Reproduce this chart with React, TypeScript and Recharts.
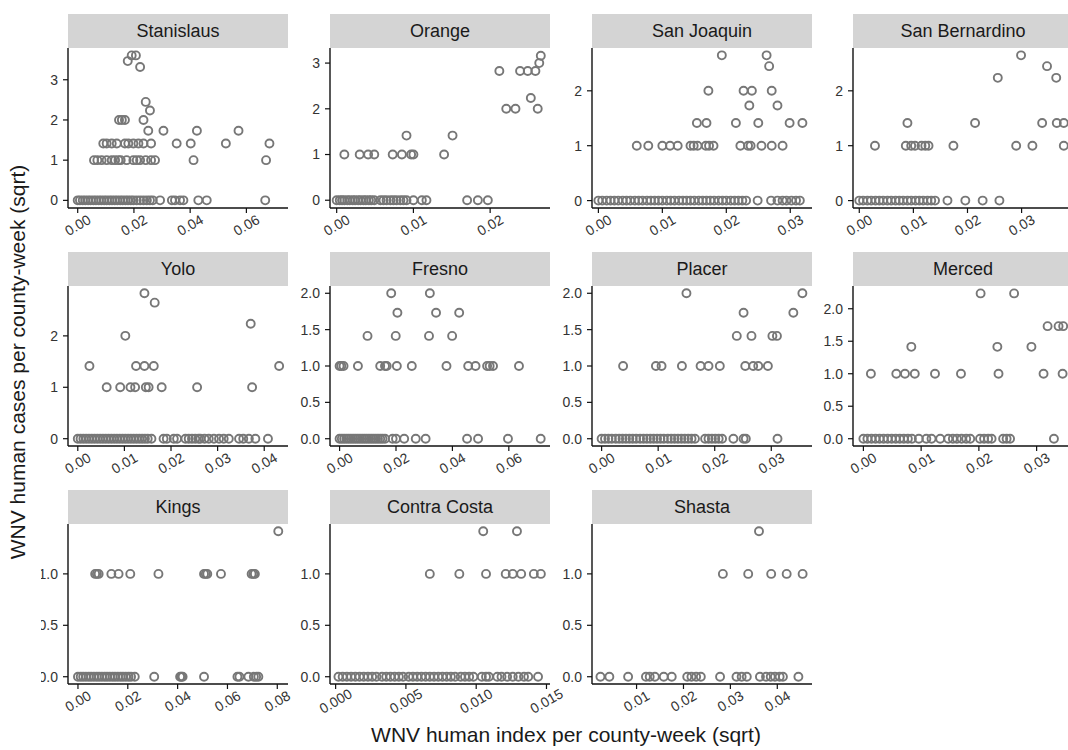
import React from 'react';
import { ScatterChart, Scatter, XAxis, YAxis } from 'recharts';

// each county: rows of [sqrt(cases), index values observed at that level]
type Rows = [number, number[]][];

const stanislaus: Rows = [
  [3.606, [0.0192, 0.0207]],
  [3.464, [0.0178]],
  [3.317, [0.0222]],
  [2.449, [0.0242]],
  [2.236, [0.0257]],
  [2.0, [0.0147, 0.0157, 0.0168, 0.0234]],
  [1.732, [0.0251, 0.0305, 0.0424, 0.0572]],
  [1.414, [0.0091, 0.0103, 0.0121, 0.0139, 0.0168, 0.018, 0.0198, 0.0216, 0.0234, 0.0261, 0.0352, 0.0402, 0.0527, 0.0682]],
  [1.0, [0.0058, 0.007, 0.0085, 0.0103, 0.0121, 0.0133, 0.0145, 0.0153, 0.0174, 0.0198, 0.021, 0.0222, 0.0242, 0.0261, 0.0275, 0.0412, 0.067]],
  [0, [0, 0.0008, 0.0018, 0.0027, 0.0037, 0.0046, 0.0056, 0.0065, 0.0075, 0.0084, 0.0094, 0.0103, 0.0113, 0.0122, 0.0132, 0.0141, 0.0151, 0.016, 0.017, 0.0179, 0.0189, 0.0198, 0.021, 0.0222, 0.0234, 0.0246, 0.0257, 0.0267, 0.0293, 0.0335, 0.0346, 0.0364, 0.0376, 0.0429, 0.0459, 0.0667]],
];

const orange: Rows = [
  [3.162, [0.0266]],
  [3.0, [0.0264]],
  [2.828, [0.0212, 0.0239, 0.0249, 0.0259]],
  [2.236, [0.0253]],
  [2.0, [0.0221, 0.0233, 0.0262]],
  [1.414, [0.0091, 0.0151]],
  [1.0, [0.001, 0.003, 0.0041, 0.0049, 0.0073, 0.0085, 0.0097, 0.01, 0.014]],
  [0, [0, 0.0004, 0.0007, 0.001, 0.0014, 0.0017, 0.0021, 0.0024, 0.0028, 0.0031, 0.0035, 0.0038, 0.0042, 0.0045, 0.0049, 0.0057, 0.0061, 0.0065, 0.007, 0.0074, 0.0078, 0.0083, 0.0087, 0.0091, 0.01, 0.0111, 0.0117, 0.017, 0.0184, 0.0197]],
];

const sanJoaquin: Rows = [
  [2.646, [0.0193, 0.0263]],
  [2.449, [0.0267]],
  [2.0, [0.0172, 0.0227, 0.024, 0.0271]],
  [1.732, [0.0236, 0.028]],
  [1.414, [0.0154, 0.0169, 0.0215, 0.025, 0.0299, 0.0319]],
  [1.0, [0.006, 0.0078, 0.01, 0.0112, 0.0124, 0.0144, 0.0149, 0.0155, 0.0168, 0.0173, 0.018, 0.0222, 0.0234, 0.0238, 0.0255, 0.0271, 0.0288]],
  [0, [0, 0.0006, 0.0013, 0.0019, 0.0025, 0.0031, 0.0038, 0.0044, 0.005, 0.0057, 0.0063, 0.0069, 0.0076, 0.0082, 0.0088, 0.0094, 0.01, 0.0107, 0.0113, 0.0119, 0.0126, 0.0132, 0.0138, 0.0144, 0.015, 0.0157, 0.0163, 0.0169, 0.0175, 0.0181, 0.0188, 0.0194, 0.02, 0.0207, 0.0213, 0.0219, 0.0225, 0.0231, 0.0249, 0.027, 0.028, 0.0288, 0.0294, 0.0302, 0.0309, 0.0315]],
];

const sanBernardino: Rows = [
  [2.646, [0.0299]],
  [2.449, [0.0347]],
  [2.236, [0.0256, 0.0364]],
  [1.414, [0.0089, 0.0214, 0.0338, 0.0365, 0.0378]],
  [1.0, [0.0029, 0.0086, 0.0096, 0.0103, 0.0115, 0.0122, 0.0128, 0.0174, 0.029, 0.032, 0.0378]],
  [0, [0, 0.0007, 0.0015, 0.0022, 0.003, 0.0037, 0.0044, 0.0052, 0.0059, 0.0067, 0.0074, 0.0081, 0.0089, 0.0096, 0.0104, 0.0111, 0.0118, 0.0126, 0.0133, 0.014, 0.0163, 0.0196, 0.0228, 0.0259]],
];

const yolo: Rows = [
  [2.828, [0.0143]],
  [2.646, [0.0165]],
  [2.236, [0.0371]],
  [2.0, [0.0102]],
  [1.414, [0.0025, 0.0125, 0.0143, 0.0163, 0.0432]],
  [1.0, [0.0062, 0.0091, 0.0113, 0.0123, 0.0146, 0.0152, 0.018, 0.0256, 0.0374]],
  [0, [0, 0.0006, 0.0012, 0.0018, 0.0024, 0.003, 0.0036, 0.0042, 0.0048, 0.0054, 0.006, 0.0066, 0.0072, 0.0078, 0.0084, 0.009, 0.0096, 0.0102, 0.0108, 0.0114, 0.012, 0.0126, 0.0132, 0.0138, 0.0144, 0.015, 0.0158, 0.0184, 0.0191, 0.0206, 0.0213, 0.0231, 0.0238, 0.0245, 0.0252, 0.0259, 0.0263, 0.0272, 0.0281, 0.0292, 0.0303, 0.0313, 0.0324, 0.0346, 0.0355, 0.0367, 0.0381, 0.0408]],
];

const fresno: Rows = [
  [2.0, [0.0183, 0.032]],
  [1.732, [0.0205, 0.0342, 0.0424]],
  [1.414, [0.0099, 0.0199, 0.0317, 0.0399]],
  [1.0, [0, 0.0006, 0.0014, 0.0065, 0.0144, 0.0161, 0.0167, 0.0203, 0.0256, 0.0379, 0.0456, 0.0482, 0.0523, 0.0532, 0.0544, 0.0636]],
  [0, [0, 0.0008, 0.0016, 0.0024, 0.0032, 0.004, 0.0048, 0.0056, 0.0064, 0.0072, 0.008, 0.0088, 0.0096, 0.0104, 0.0112, 0.012, 0.0128, 0.0136, 0.0144, 0.0152, 0.0161, 0.0188, 0.02, 0.0229, 0.027, 0.0305, 0.0452, 0.0491, 0.0597, 0.0713]],
];

const placer: Rows = [
  [2.0, [0.015, 0.0355]],
  [1.732, [0.0251, 0.0339]],
  [1.414, [0.0239, 0.0265, 0.0302, 0.031]],
  [1.0, [0.0038, 0.0096, 0.0106, 0.0142, 0.0175, 0.0189, 0.0209, 0.0254, 0.0268, 0.0277, 0.0294]],
  [0, [0, 0.0006, 0.0012, 0.0018, 0.0025, 0.0031, 0.0037, 0.0043, 0.0049, 0.0055, 0.0061, 0.0068, 0.0074, 0.008, 0.0086, 0.0092, 0.0098, 0.0104, 0.011, 0.0117, 0.0123, 0.0129, 0.0135, 0.0141, 0.0147, 0.0153, 0.0159, 0.0165, 0.0183, 0.0189, 0.0195, 0.0201, 0.0207, 0.0213, 0.0233, 0.0251, 0.0255, 0.0311]],
];

const merced: Rows = [
  [2.236, [0.0203, 0.0261]],
  [1.732, [0.0319, 0.0338, 0.0346]],
  [1.414, [0.0083, 0.0232, 0.0291]],
  [1.0, [0.0013, 0.0057, 0.0072, 0.0089, 0.0124, 0.0169, 0.0234, 0.0312, 0.0345]],
  [0, [0, 0.0007, 0.0014, 0.0021, 0.0028, 0.0035, 0.0042, 0.0049, 0.0056, 0.0063, 0.007, 0.0077, 0.0084, 0.0096, 0.0109, 0.0118, 0.0133, 0.0147, 0.0155, 0.0162, 0.017, 0.0178, 0.0185, 0.0202, 0.0209, 0.0216, 0.0222, 0.0242, 0.0248, 0.0254, 0.033]],
];

const kings: Rows = [
  [1.414, [0.0804]],
  [1.0, [0.0069, 0.0076, 0.0083, 0.0134, 0.0163, 0.021, 0.0323, 0.0506, 0.0513, 0.0519, 0.0574, 0.0697, 0.0704, 0.071]],
  [0, [0, 0.0011, 0.0021, 0.0032, 0.0043, 0.0053, 0.0064, 0.0075, 0.0085, 0.0096, 0.0107, 0.0117, 0.0128, 0.0139, 0.0149, 0.016, 0.0171, 0.0181, 0.0192, 0.0203, 0.0213, 0.0228, 0.0306, 0.041, 0.0415, 0.042, 0.0506, 0.064, 0.0648, 0.0684, 0.0706, 0.0715, 0.0724]],
];

const contraCosta: Rows = [
  [1.414, [0.0105, 0.0129]],
  [1.0, [0.0067, 0.0088, 0.0107, 0.0121, 0.0126, 0.0132, 0.0141, 0.0146]],
  [0, [0.0002, 0.0005, 0.0008, 0.0011, 0.0014, 0.0017, 0.002, 0.0023, 0.0026, 0.0029, 0.0033, 0.0036, 0.0039, 0.0042, 0.0045, 0.0048, 0.0052, 0.0055, 0.0058, 0.0061, 0.0064, 0.0067, 0.007, 0.0073, 0.0076, 0.0079, 0.0082, 0.0085, 0.0089, 0.0092, 0.0095, 0.0098, 0.0104, 0.0107, 0.0109, 0.0115, 0.0118, 0.0122, 0.0126, 0.013, 0.0134, 0.0137, 0.0144]],
];

const shasta: Rows = [
  [1.414, [0.0361]],
  [1.0, [0.0284, 0.0338, 0.0387, 0.042, 0.0454]],
  [0, [0.0023, 0.0042, 0.0082, 0.012, 0.0128, 0.0139, 0.0158, 0.0175, 0.0208, 0.0217, 0.0227, 0.0237, 0.0278, 0.0313, 0.0324, 0.0335, 0.0363, 0.0376, 0.0386, 0.0395, 0.0405, 0.0412, 0.0445]],
];

const TICKS_X2 = [0, 0.01, 0.02, 0.03];
const TICKS_X_WIDE = [0, 0.02, 0.04, 0.06];

interface Panel {
  name: string;
  rows: Rows;
  xDomain: [number, number];
  yDomain: [number, number];
  xTicks: number[];
  yTicks: number[];
  xDigits: number;
  yDigits: number;
}

const PANELS: Panel[] = [
  { name: 'Stanislaus', rows: stanislaus, xDomain: [-0.00345, 0.0748], yDomain: [-0.19, 3.79], xTicks: TICKS_X_WIDE, yTicks: [0, 1, 2, 3], xDigits: 2, yDigits: 0 },
  { name: 'Orange', rows: orange, xDomain: [-0.00087, 0.0278], yDomain: [-0.17, 3.33], xTicks: [0, 0.01, 0.02], yTicks: [0, 1, 2, 3], xDigits: 2, yDigits: 0 },
  { name: 'San Joaquin', rows: sanJoaquin, xDomain: [-0.001, 0.0334], yDomain: [-0.135, 2.78], xTicks: TICKS_X2, yTicks: [0, 1, 2], xDigits: 2, yDigits: 0 },
  { name: 'San Bernardino', rows: sanBernardino, xDomain: [-0.00116, 0.0395], yDomain: [-0.135, 2.78], xTicks: TICKS_X2, yTicks: [0, 1, 2], xDigits: 2, yDigits: 0 },
  { name: 'Yolo', rows: yolo, xDomain: [-0.0021, 0.0451], yDomain: [-0.142, 2.97], xTicks: [0, 0.01, 0.02, 0.03, 0.04], yTicks: [0, 1, 2], xDigits: 2, yDigits: 0 },
  { name: 'Fresno', rows: fresno, xDomain: [-0.0034, 0.0746], yDomain: [-0.1, 2.1], xTicks: TICKS_X_WIDE, yTicks: [0, 0.5, 1, 1.5, 2], xDigits: 2, yDigits: 1 },
  { name: 'Placer', rows: placer, xDomain: [-0.0017, 0.0372], yDomain: [-0.1, 2.1], xTicks: TICKS_X2, yTicks: [0, 0.5, 1, 1.5, 2], xDigits: 2, yDigits: 1 },
  { name: 'Merced', rows: merced, xDomain: [-0.0018, 0.0363], yDomain: [-0.112, 2.35], xTicks: TICKS_X2, yTicks: [0, 0.5, 1, 1.5, 2], xDigits: 2, yDigits: 1 },
  { name: 'Kings', rows: kings, xDomain: [-0.004, 0.0843], yDomain: [-0.0707, 1.485], xTicks: [0, 0.02, 0.04, 0.06, 0.08], yTicks: [0, 0.5, 1], xDigits: 2, yDigits: 1 },
  { name: 'Contra Costa', rows: contraCosta, xDomain: [-0.0004, 0.01525], yDomain: [-0.0707, 1.485], xTicks: [0, 0.005, 0.01, 0.015], yTicks: [0, 0.5, 1], xDigits: 3, yDigits: 1 },
  { name: 'Shasta', rows: shasta, xDomain: [0.0005, 0.0474], yDomain: [-0.0707, 1.485], xTicks: [0.01, 0.02, 0.03, 0.04], yTicks: [0, 0.5, 1], xDigits: 2, yDigits: 1 },
];

// panel grid (plot-area top-left corners in page pixels)
const COL_X = [68, 330, 592, 853];
const ROW_Y = [48, 286, 524];
const PW = 220;
const PH = 160;
const STRIP_H = 34;
const Y_AXIS_W = 70;
const TOP_PAD = 10;
const RIGHT_PAD = 30;
const X_AXIS_H = 50;

const FONT = '"Liberation Sans", Arial, sans-serif';
const POINT = '#777';
const AXIS_TEXT = '#333';
const TICK_FS = 14;

function flatten(rows: Rows) {
  const out: { x: number; y: number }[] = [];
  rows.forEach(([y, xs]) => xs.forEach((x) => out.push({ x, y })));
  return out;
}

function Ring(props: any) {
  const { cx, cy } = props;
  if (cx == null || cy == null) return null;
  return <circle cx={cx} cy={cy} r={4} fill="none" stroke={POINT} strokeWidth={1.9} />;
}

function XTick(props: any) {
  const { x, y, payload, digits } = props;
  const ty = y + 10;
  return (
    <text
      x={x}
      y={ty}
      transform={`rotate(-30 ${x} ${ty})`}
      textAnchor="middle"
      dominantBaseline="central"
      fontSize={TICK_FS}
      fontFamily={FONT}
      fill={AXIS_TEXT}
    >
      {Number(payload.value).toFixed(digits)}
    </text>
  );
}

function FacetPanel({ panel, col, row }: { panel: Panel; col: number; row: number }) {
  const left = COL_X[col];
  const top = ROW_Y[row];
  const data = flatten(panel.rows);
  return (
    <>
      <div
        style={{
          position: 'absolute',
          left,
          top: top - STRIP_H,
          width: PW,
          height: STRIP_H,
          background: '#d4d4d4',
          color: '#1a1a1a',
          fontFamily: FONT,
          fontSize: 18,
          lineHeight: `${STRIP_H}px`,
          textAlign: 'center',
        }}
      >
        {panel.name}
      </div>
      <div style={{ position: 'absolute', left: left - Y_AXIS_W, top: top - TOP_PAD }}>
        <ScatterChart
          width={Y_AXIS_W + PW + RIGHT_PAD}
          height={TOP_PAD + PH + X_AXIS_H}
          margin={{ top: TOP_PAD, right: RIGHT_PAD, bottom: 0, left: 0 }}
        >
          <XAxis
            type="number"
            dataKey="x"
            domain={panel.xDomain}
            allowDataOverflow
            ticks={panel.xTicks}
            interval={0}
            height={X_AXIS_H}
            axisLine={{ stroke: '#111', strokeWidth: 1.4 }}
            tickLine={{ stroke: '#111', strokeWidth: 1.2 }}
            tickSize={5}
            tick={(p: any) => <XTick {...p} digits={panel.xDigits} />}
          />
          <YAxis
            type="number"
            dataKey="y"
            domain={panel.yDomain}
            allowDataOverflow
            ticks={panel.yTicks}
            interval={0}
            width={Y_AXIS_W}
            axisLine={{ stroke: '#111', strokeWidth: 1.4 }}
            tickLine={{ stroke: '#111', strokeWidth: 1.2 }}
            tickSize={5}
            tickMargin={5}
            tick={{ fontSize: TICK_FS, fontFamily: FONT, fill: AXIS_TEXT }}
            tickFormatter={(v: number) => v.toFixed(panel.yDigits)}
          />
          <Scatter data={data} shape={Ring} isAnimationActive={false} />
        </ScatterChart>
      </div>
    </>
  );
}

export default function App() {
  return (
    <div
      style={{
        position: 'fixed',
        left: 0,
        top: 0,
        width: 1068,
        height: 750,
        overflow: 'hidden',
        background: '#fff',
        fontFamily: FONT,
      }}
    >
      {PANELS.map((p, i) => (
        <FacetPanel key={p.name} panel={p} col={i % 4} row={Math.floor(i / 4)} />
      ))}
      {/* the lower-left corner of the figure is blanked, trimming the Kings labels */}
      <div style={{ position: 'absolute', left: 0, top: 570, width: 41, height: 180, background: '#fff' }} />
      <div
        style={{
          position: 'absolute',
          left: 18,
          top: 362,
          transform: 'translate(-50%, -50%) rotate(-90deg)',
          whiteSpace: 'nowrap',
          fontSize: 21,
          color: '#1a1a1a',
        }}
      >
        WNV human cases per county-week (sqrt)
      </div>
      <div
        style={{
          position: 'absolute',
          left: 566,
          top: 735,
          transform: 'translate(-50%, -50%)',
          whiteSpace: 'nowrap',
          fontSize: 21,
          color: '#1a1a1a',
        }}
      >
        WNV human index per county-week (sqrt)
      </div>
    </div>
  );
}
